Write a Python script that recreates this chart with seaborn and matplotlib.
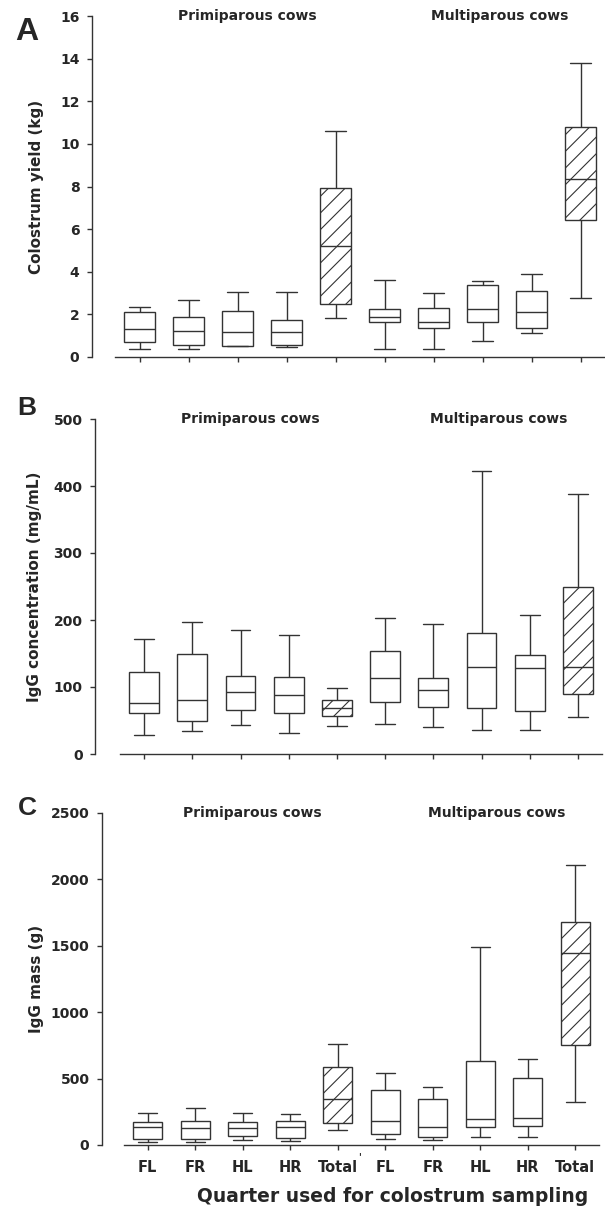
import numpy as np
import pandas as pd
import matplotlib
matplotlib.use("Agg")
import matplotlib.pyplot as plt
import seaborn as sns

# ---- data: five-number summaries (min, Q1, median, Q3, max) ----
categories = ["P-FL", "P-FR", "P-HL", "P-HR", "P-Total",
              "M-FL", "M-FR", "M-HL", "M-HR", "M-Total"]
tick_labels = ["FL", "FR", "HL", "HR", "Total", "FL", "FR", "HL", "HR", "Total"]

yield_kg = [
    [0.39, 0.70, 1.31, 2.09, 2.34],
    [0.36, 0.55, 1.20, 1.89, 2.67],
    [0.50, 0.53, 1.19, 2.17, 3.03],
    [0.45, 0.58, 1.19, 1.75, 3.06],
    [1.84, 2.50, 5.23, 7.92, 10.61],
    [0.39, 1.64, 1.88, 2.25, 3.61],
    [0.36, 1.36, 1.63, 2.28, 2.98],
    [0.77, 1.66, 2.25, 3.36, 3.55],
    [1.11, 1.34, 2.13, 3.08, 3.91],
    [2.75, 6.44, 8.36, 10.78, 13.80],
]

igg_conc = [
    [28, 61, 76, 123, 171],
    [34, 49, 81, 149, 197],
    [44, 65, 92, 116, 185],
    [31, 61, 88, 115, 177],
    [42, 57, 69, 80, 99],
    [45, 78, 114, 153, 203],
    [40, 70, 95, 114, 194],
    [36, 69, 130, 181, 422],
    [36, 64, 128, 148, 207],
    [55, 90, 130, 250, 388],
]

igg_mass = [
    [25, 45, 136, 176, 239],
    [20, 45, 131, 178, 276],
    [40, 65, 128, 171, 239],
    [28, 53, 133, 181, 234],
    [111, 168, 349, 588, 761],
    [48, 83, 183, 415, 540],
    [38, 60, 136, 347, 437],
    [63, 138, 196, 633, 1492],
    [60, 143, 201, 507, 646],
    [324, 756, 1447, 1676, 2106],
]

panels = [
    ("A", "Colostrum yield (kg)", yield_kg, 16, np.arange(0, 17, 2)),
    ("B", "IgG concentration (mg/mL)", igg_conc, 500, np.arange(0, 501, 100)),
    ("C", "IgG mass (g)", igg_mass, 2500, np.arange(0, 2501, 500)),
]

group_titles = ["Primiparous cows", "Multiparous cows"]

sns.set_style("ticks")
plt.rcParams["font.family"] = ["DejaVu Sans"]
plt.rcParams["font.weight"] = "bold"
plt.rcParams["hatch.linewidth"] = 0.8
plt.rcParams["hatch.color"] = "#333333"

W, H = 605, 1209
fig = plt.figure(figsize=(W / 100, H / 100), dpi=100)

# layout in pixels: (left, right, top, bottom, spine_px, ylabel_center_x, letter_y)
layout = [
    (115, 605, 16, 357, 92, 37, 32),
    (120, 602, 419, 754, 95, 35, 408),
    (124, 599, 813, 1145, 102, 37, 808),
]
line_col = "#333333"

for i, ((letter, ylabel, values, ymax, yticks), lay) in enumerate(zip(panels, layout)):
    lpx, rpx, tpx, bpx, spx, ylx, ly = lay
    ax = fig.add_axes([lpx / W, 1 - bpx / H, (rpx - lpx) / W, (bpx - tpx) / H])
    rows = []
    for cat, vals in zip(categories, values):
        for v in vals:
            rows.append({"cat": cat, "val": v})
    df = pd.DataFrame(rows)
    sns.boxplot(data=df, x="cat", y="val", order=categories, whis=(0, 100),
                width=0.62, color="white", saturation=1, linecolor=line_col,
                linewidth=1.0, fliersize=0, capwidths=0.41, ax=ax)
    for j, p in enumerate(ax.patches):
        if categories[j].endswith("Total"):
            p.set_hatch("//")
    ax.set_xlim(-0.5, 9.5)
    ax.set_ylim(0, ymax)
    ax.set_yticks(yticks)
    ax.set_yticklabels([str(t) for t in yticks], fontsize=9, fontweight="bold")
    ax.set_xticks(range(len(categories)))
    if i == 2:
        ax.set_xticklabels(tick_labels, fontsize=10.5, fontweight="bold")
        ax.set_xlabel("Quarter used for colostrum sampling", fontsize=13.5,
                      fontweight="bold")
        ax.xaxis.set_label_coords((393 - lpx) / (rpx - lpx), -(1197 - bpx) / (bpx - tpx))
        ax.xaxis.label.set_va("center")
        # small stray mark between the two groups
        ax.text(4.45, -(1157 - bpx) / (bpx - tpx), "'", transform=ax.get_xaxis_transform(),
                ha="center", va="center", fontsize=7, color=line_col)
    else:
        ax.set_xticklabels([])
        ax.set_xlabel("")
    ax.set_ylabel(ylabel, fontsize=11, fontweight="bold")
    ax.yaxis.set_label_coords((ylx - lpx) / (rpx - lpx), 0.5)
    ax.yaxis.label.set_va("center")
    sns.despine(ax=ax)
    ax.spines["left"].set_position(("outward", (lpx - spx) * 0.72))
    for s in ("left", "bottom"):
        ax.spines[s].set_color(line_col)
        ax.spines[s].set_linewidth(1.0)
    ax.tick_params(axis="both", length=3.5, width=1.0, color=line_col)
    ax.tick_params(axis="y", pad=5.5)
    ax.tick_params(axis="x", pad=7)
    ax.text(2.2, 1.0, group_titles[0], transform=ax.get_xaxis_transform(),
            ha="center", va="center", fontsize=10, fontweight="bold")
    ax.text(7.35, 1.0, group_titles[1], transform=ax.get_xaxis_transform(),
            ha="center", va="center", fontsize=10, fontweight="bold")
    fig.text(27 / W, 1 - ly / H, letter, ha="center", va="center",
             fontsize=23 if i == 0 else 19, fontweight="bold",
             family=["Liberation Sans", "DejaVu Sans"])

fig.savefig("out.png", dpi=100)
